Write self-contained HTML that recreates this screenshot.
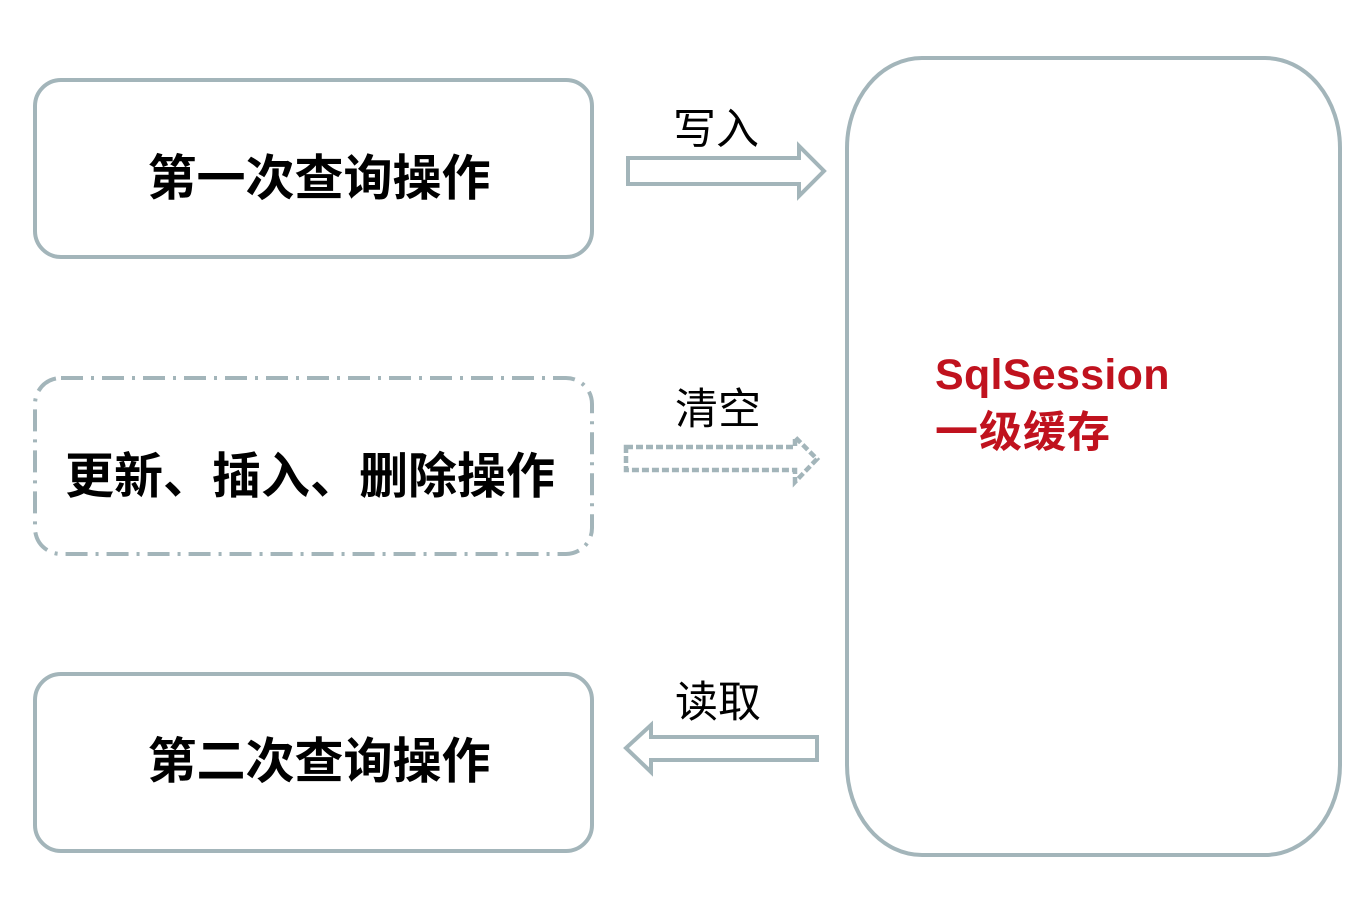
<!DOCTYPE html>
<html><head><meta charset="utf-8"><style>
html,body{margin:0;padding:0;background:#fff;}
svg text{font-family:"Liberation Sans","Noto Sans CJK SC",sans-serif;}
</style></head><body>
<svg width="1368" height="912" viewBox="0 0 1368 912" xmlns="http://www.w3.org/2000/svg">
<g fill="none" stroke="#a3b5ba" stroke-width="4">
<rect x="35" y="80" width="557" height="177" rx="26"/>
<rect x="35" y="378" width="557" height="176" rx="26" stroke-dasharray="22 8 3 8"/>
<rect x="35" y="674" width="557" height="177" rx="26"/>
<rect x="847" y="58" width="493" height="797" rx="75" ry="90"/>
<path d="M628 158 H799 V146 L824 171 L799 196 V184 H628 Z"/>
<path d="M626 447 H795 V437 L817 459 L795 482 V470 H626 Z" stroke-dasharray="7 3" stroke-width="4.5"/>
<path d="M817 737 H651 V725 L626 748 L651 772 V760 H817 Z"/>
</g>
<g font-weight="bold" font-size="49" fill="#000" text-anchor="middle">
<text x="319" y="195">第一次查询操作</text>
<text x="310" y="493">更新、插入、删除操作</text>
<text x="319" y="778">第二次查询操作</text>
</g>
<g font-size="43" fill="#000" text-anchor="middle">
<text x="716" y="144">写入</text>
<text x="718" y="424">清空</text>
<text x="718" y="717">读取</text>
</g>
<g font-weight="bold" font-size="43" fill="#c0121e">
<text x="935" y="389" letter-spacing="0.3">SqlSession</text>
<text x="935" y="447" letter-spacing="1">一级缓存</text>
</g>
</svg>
</body></html>
